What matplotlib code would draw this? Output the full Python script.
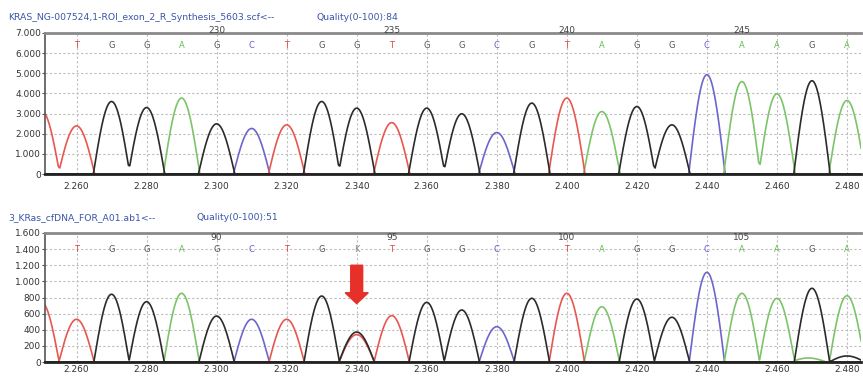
import numpy as np
import matplotlib
matplotlib.use("Agg")
import matplotlib.pyplot as plt
from matplotlib.ticker import FuncFormatter, MultipleLocator

# --------------------------------------------------
# DATI LETTI DAL CROMATOGRAMMA
# --------------------------------------------------

posizioni = [2260, 2270, 2280, 2290, 2300, 2310, 2320, 2330, 2340, 2350, 2360, 2370,
             2380, 2390, 2400, 2410, 2420, 2430, 2440, 2450, 2460, 2470, 2480]

basi_sopra = ["T", "G", "G", "A", "G", "C", "T", "G", "G", "T", "G", "G",
              "C", "G", "T", "A", "G", "G", "C", "A", "A", "G", "A"]
altezze_sopra = [2390, 3600, 3300, 3770, 2490, 2260, 2440, 3600, 3270, 2550, 3270, 2990,
                 2060, 3520, 3770, 3100, 3350, 2440, 4930, 4590, 3980, 4630, 3650]

basi_sotto = ["T", "G", "G", "A", "G", "C", "T", "G", "K", "T", "G", "G",
              "C", "G", "T", "A", "G", "G", "C", "A", "A", "G", "A"]
altezze_sotto = [530, 840, 748, 852, 570, 530, 530, 818, 372, 575, 740, 645,
                 438, 790, 852, 685, 781, 555, 1112, 852, 790, 914, 822]

# picchi extra: (posizione, canale, altezza)
extra_sopra = [(2250, "T", 3150)]
extra_sotto = [(2250, "T", 740), (2340, "T", 340), (2469, "A", 50), (2480, "G", 75)]

numeri_pos = [2300, 2350, 2400, 2450]
numeri_sopra = ["230", "235", "240", "245"]
numeri_sotto = ["90", "95", "100", "105"]

titolo_sopra = "KRAS_NG-007524,1-ROI_exon_2_R_Synthesis_5603.scf<--"
qualita_sopra = "Quality(0-100):84"
titolo_sotto = "3_KRas_cfDNA_FOR_A01.ab1<--"
qualita_sotto = "Quality(0-100):51"

posizione_mutazione = 2340

# --------------------------------------------------
# STILE
# --------------------------------------------------

colori_traccia = {"T": "#e8574f", "G": "#2b2b2b", "A": "#7cc46a", "C": "#6c66cc"}
colori_lettere = {"T": "#e04545", "G": "#555555", "A": "#66bb55", "C": "#6a5acd", "K": "#888888"}
blu_titolo = "#3a56a8"


def formato_punti(v, pos):
    return f"{v:,.0f}".replace(",", ".")


def disegna_pannello(ax, basi, altezze, extra, larghezza, ymax, passo_y, y_lettere,
                     numeri, y_numeri, pad_x):
    picchi = [(p, "G" if b == "K" else b, h) for p, b, h in zip(posizioni, basi, altezze)] + extra
    x = np.linspace(2245, 2492, 3000)
    for canale in ["C", "A", "T", "G"]:
        y = np.zeros_like(x)
        for p, b, h in picchi:
            if b == canale:
                d = x - p
                y += np.where(np.abs(d) < larghezza / 2, h * np.cos(np.pi * d / larghezza), 0)
        ax.plot(x, y, color=colori_traccia[canale], lw=1.2, zorder=2)

    ax.set_xlim(2251, 2484)
    ax.set_ylim(0, ymax)
    ax.xaxis.set_major_locator(MultipleLocator(20))
    ax.yaxis.set_major_locator(MultipleLocator(passo_y))
    ax.xaxis.set_major_formatter(FuncFormatter(formato_punti))
    ax.yaxis.set_major_formatter(FuncFormatter(formato_punti))
    ax.grid(True, color="#bdbdbd", ls=(0, (2, 2)), lw=0.8, zorder=1)
    ax.tick_params(axis="x", length=0, pad=pad_x, labelsize=6.5, labelcolor="#333333")
    ax.tick_params(axis="y", length=2, pad=1, labelsize=6.5, labelcolor="#333333", color="#555555")

    ax.spines["right"].set_visible(False)
    ax.spines["top"].set_color("#8a8a8a")
    ax.spines["top"].set_linewidth(2)
    ax.spines["left"].set_color("#555555")
    ax.spines["left"].set_linewidth(1.2)
    ax.spines["bottom"].set_color("#222222")
    ax.spines["bottom"].set_linewidth(2)

    for p, b in zip(posizioni, basi):
        ax.text(p, y_lettere, b, color=colori_lettere[b], fontsize=6,
                ha="center", va="center", zorder=3)
    for p, n in zip(numeri_pos, numeri):
        ax.text(p, y_numeri, n, color="#444444", fontsize=6.5,
                ha="center", va="center", clip_on=False, zorder=3)


fig = plt.figure(figsize=(8.63, 3.76), dpi=100)

ax1 = fig.add_axes([45 / 863, 1 - 174 / 376, 816 / 863, 141 / 376])
disegna_pannello(ax1, basi_sopra, altezze_sopra, extra_sopra, 10.4, 7000, 1000, 6400,
                 numeri_sopra, 7100, 6)

ax2 = fig.add_axes([45 / 863, 1 - 362 / 376, 816 / 863, 129 / 376])
disegna_pannello(ax2, basi_sotto, altezze_sotto, extra_sotto, 10.1, 1600, 200, 1400,
                 numeri_sotto, 1550, 2)

# freccia rossa sulla mutazione
ax2.arrow(posizione_mutazione, 1200, 0, -476, width=3.4, head_width=6.6, head_length=135,
          length_includes_head=True, color="#e8302a", zorder=4)

fig.text(8 / 863, 1 - 18 / 376, titolo_sopra, color=blu_titolo, fontsize=6.7, va="center")
fig.text(316 / 863, 1 - 18 / 376, qualita_sopra, color=blu_titolo, fontsize=6.7, va="center")
fig.text(8 / 863, 1 - 218 / 376, titolo_sotto, color=blu_titolo, fontsize=6.7, va="center")
fig.text(196 / 863, 1 - 218 / 376, qualita_sotto, color=blu_titolo, fontsize=6.7, va="center")

fig.savefig("out.png", dpi=100)
